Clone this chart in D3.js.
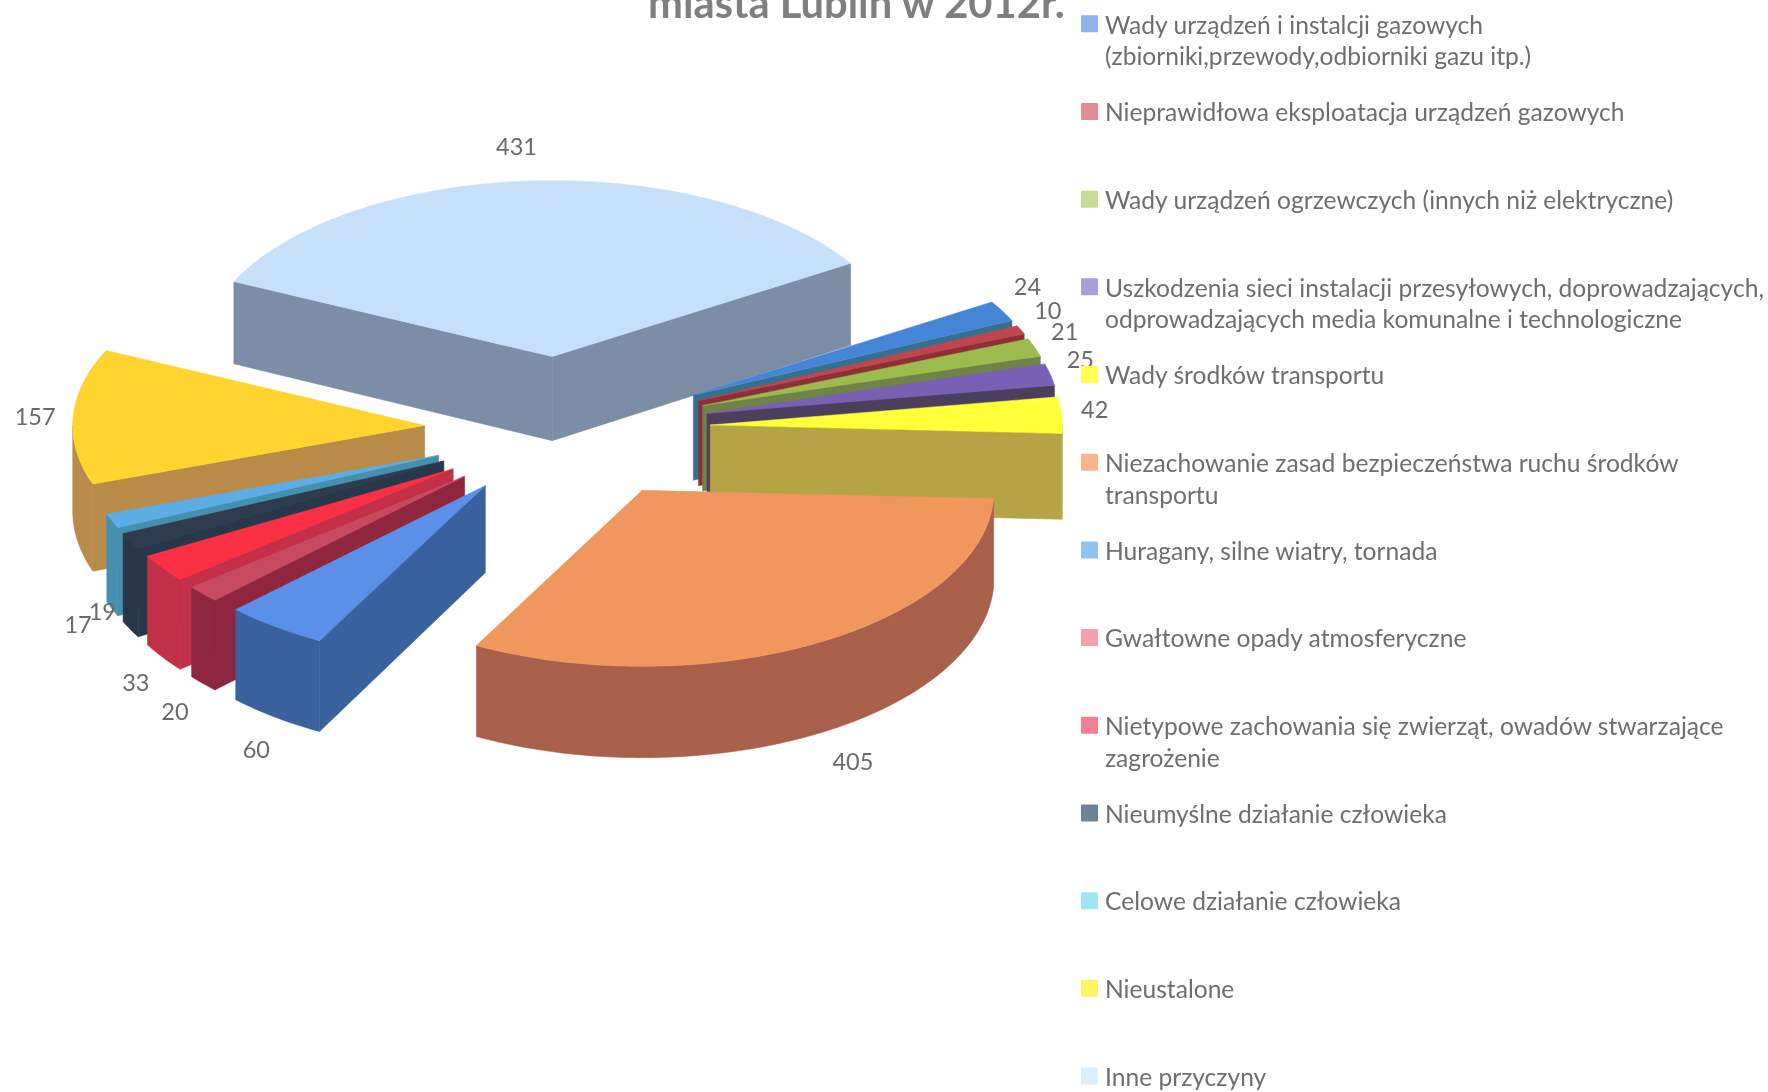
<!DOCTYPE html>
<html lang="pl"><head><meta charset="utf-8">
<script src="https://cdn.jsdelivr.net/npm/d3@7/dist/d3.min.js"></script>
<style>html,body{margin:0;padding:0;background:#fff;overflow:hidden}svg{display:block;filter:blur(0.5px)}
text{font-family:Lato,"Open Sans",sans-serif}</style></head><body>
<svg id="c" width="1768" height="1092"></svg>
<script>
const categories = [
 ["Wady urządzeń i instalcji gazowych","(zbiorniki,przewody,odbiorniki gazu itp.)"],
 ["Nieprawidłowa eksploatacja urządzeń gazowych"],
 ["Wady urządzeń ogrzewczych (innych niż elektryczne)"],
 ["Uszkodzenia sieci instalacji przesyłowych, doprowadzających,","odprowadzających media komunalne i technologiczne"],
 ["Wady środków transportu"],
 ["Niezachowanie zasad bezpieczeństwa ruchu środków","transportu"],
 ["Huragany, silne wiatry, tornada"],
 ["Gwałtowne opady atmosferyczne"],
 ["Nietypowe zachowania się zwierząt, owadów stwarzające","zagrożenie"],
 ["Nieumyślne działanie człowieka"],
 ["Celowe działanie człowieka"],
 ["Nieustalone"],
 ["Inne przyczyny"]];
const values = [24,10,21,25,42,405,60,20,33,19,17,157,431];
const titleText = "miasta Lublin w 2012r.";
const topColors  = ["#4485d8","#c2444c","#9cbc4e","#7a60b4","#ffff3a","#f0975e","#5b90e8","#c84a5e","#fb3044","#2e3c4e","#5cace6","#ffd42e","#c6e0fa"];
const wallColors = ["#37708e","#8c3038","#6e8249","#4c3f5e","#b4a445","#a9604a","#39619e","#8e2640","#c23048","#28384a","#4590ae","#b88c48","#7c8da6"];
const swatchColors = ["#8db4ee","#e48b94","#c9dc96","#a99fd8","#ffff50","#f8b68c","#8fc3f2","#f4a0b0","#f47e92","#6e8298","#9fe6f4","#fbf464","#dcf0fc"];
const labelNudge = [[25,-24],[27,-19],[30,-15],[30,-14],[33,-5],[37,119],[-19,123],[-28,118],[-27,115],[-28,71],[-34,104],[-38,0],[-15,-34]];
const apexNudge  = [[0,0],[0,0],[0,0],[0,0],[0,0],[3,0],[0,0],[0,0],[0,0],[0,0],[0,0],[-4,0],[-9,-2]];

const W=1768,H=1092, CX=569.5, CY=429, EXPLODE=141, R=352, SQUASH=0.5;
const depth=d3.scaleLinear().domain([270,650]).range([82,91]);
const svg=d3.select("#c");
const arcs=d3.pie().sort(null).startAngle(58*Math.PI/180).endAngle((58+360)*Math.PI/180)(values);
const flat=(a,r)=>[r*Math.sin(a), -SQUASH*r*Math.cos(a)];
const slices=arcs.map((d,i)=>{
  const mid=(d.startAngle+d.endAngle)/2, o=flat(mid,EXPLODE);
  const apex=[CX+o[0]+apexNudge[i][0],CY+o[1]+apexNudge[i][1]];
  const pt=a=>{const p=flat(a,R);return [apex[0]+p[0],apex[1]+p[1]];};
  return {i,d,mid,apex,pt};
});
const line=d3.line();
const sample=(a0,a1)=>{const n=Math.max(2,Math.ceil((a1-a0)/0.02));return d3.range(n+1).map(k=>a0+(a1-a0)*k/n);};
const down=p=>[p[0],p[1]+depth(p[1])];
const g=svg.append("g");
slices.slice().sort((a,b)=>a.apex[1]-b.apex[1]).forEach(s=>{
  const {d,apex,pt,i}=s, G=g.append("g");
  const wall=pts=>G.append("path").attr("d",line(pts.concat(pts.slice().reverse().map(down)))+"Z").attr("fill",wallColors[i]).attr("stroke",wallColors[i]).attr("stroke-width",0.5);
  // radial walls, visible when facing the viewer
  if(Math.sin(d.startAngle)<0) wall([apex,pt(d.startAngle)]);
  if(Math.sin(d.endAngle)>0) wall([apex,pt(d.endAngle)]);
  // outer wall, lower half of the circle only
  const lo=Math.max(d.startAngle,Math.PI/2), hi=Math.min(d.endAngle,3*Math.PI/2);
  if(hi>lo) wall(sample(lo,hi).map(pt));
  G.append("path").attr("d",line([apex].concat(sample(d.startAngle,d.endAngle).map(pt)))+"Z")
    .attr("fill",topColors[i]).attr("stroke",topColors[i]).attr("stroke-width",0.5);
});
// data labels
svg.append("g").selectAll("text").data(slices).join("text")
  .attr("x",s=>s.pt(s.mid)[0]+labelNudge[s.i][0])
  .attr("y",s=>s.pt(s.mid)[1]+labelNudge[s.i][1]+8)
  .attr("text-anchor","middle").attr("font-size",23.5).attr("fill","#6a6a6a")
  .text(s=>values[s.i]);
// title
svg.append("text").attr("x",648).attr("y",18).attr("font-size",41.7).attr("font-weight",700).attr("fill","#7f7f7f").text(titleText);
// legend
const legendY=d3.scaleLinear().domain([0,12]).range([25.6,1077.8]);
const lg=svg.append("g").selectAll("g").data(categories).join("g").attr("transform",(d,i)=>`translate(0,${legendY(i)})`);
lg.append("rect").attr("x",1081).attr("y",-10.3).attr("width",17).attr("height",17).attr("rx",1).attr("fill",(d,i)=>swatchColors[i]);
lg.selectAll("text").data(d=>d).join("text").attr("x",1105).attr("y",(d,i)=>8+i*31.6)
  .attr("font-size",24.6).attr("fill","#6e6e6e").text(d=>d);
</script></body></html>
